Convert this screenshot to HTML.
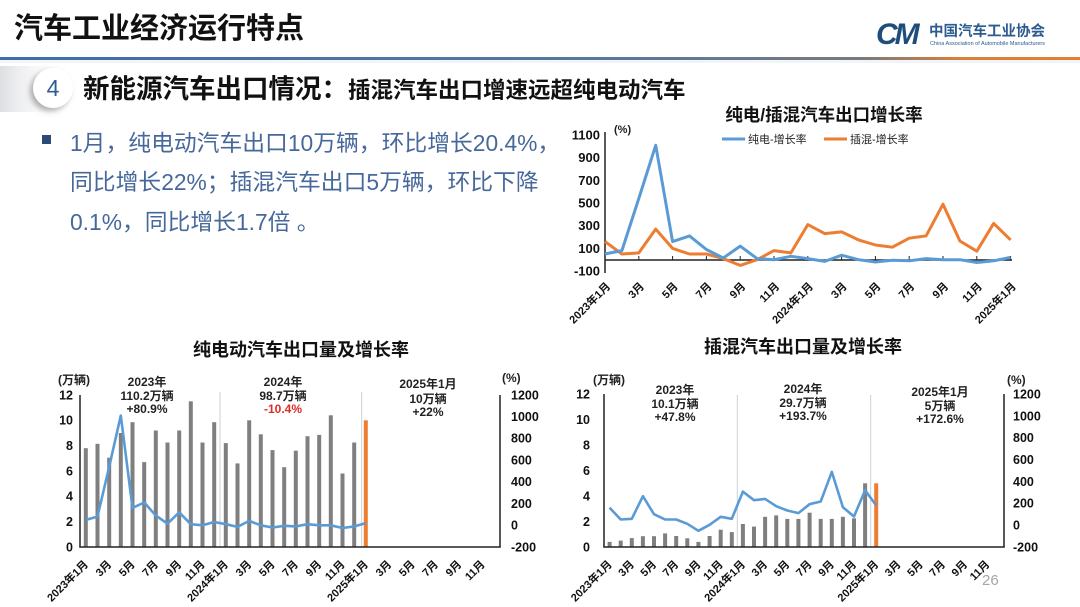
<!DOCTYPE html>
<html><head><meta charset="utf-8"><style>
html,body{margin:0;padding:0;background:#fff;}
body{width:1080px;height:607px;overflow:hidden;}
svg{display:block;}
.t{font-family:"Liberation Sans","Noto Sans CJK SC",sans-serif;}
.b{font-weight:bold;}
</style></head><body>
<svg width="1080" height="607" viewBox="0 0 1080 607" xmlns="http://www.w3.org/2000/svg">
<defs>
<linearGradient id="hl" x1="0" x2="1" y1="0" y2="0">
<stop offset="0" stop-color="#3d6ea8"/><stop offset="0.55" stop-color="#56789f"/><stop offset="0.8" stop-color="#7a7a7a"/><stop offset="0.89" stop-color="#d9803a"/><stop offset="1" stop-color="#e67e2e"/>
</linearGradient>
<linearGradient id="sh" x1="0" x2="1" y1="0" y2="0">
<stop offset="0" stop-color="#cfd1d6" stop-opacity="0.7"/><stop offset="1" stop-color="#ffffff" stop-opacity="0"/>
</linearGradient>
<filter id="ds" x="-50%" y="-50%" width="200%" height="200%"><feDropShadow dx="-3" dy="3" stdDeviation="3" flood-color="#777" flood-opacity="0.6"/></filter>
</defs>
<rect width="1080" height="607" fill="#fff"/>

<!-- header -->
<text class="t b" x="14" y="38" font-size="29" fill="#111">汽车工业经济运行特点</text>
<rect x="0" y="57" width="1080" height="3" fill="url(#hl)"/>
<rect x="0" y="60" width="1080" height="3" fill="#e8eef5" opacity="0.6"/>

<!-- logo -->
<text class="t b" x="876" y="44" font-size="30" font-style="italic" fill="#1f4d7a" letter-spacing="-3">CM</text>
<text class="t b" x="929" y="36" font-size="14.5" fill="#2b5b8f">中国汽车工业协会</text>
<text class="t" x="930" y="45" font-size="5" fill="#2b5b8f" textLength="115" lengthAdjust="spacingAndGlyphs">China Association of Automobile Manufacturers</text>

<!-- section heading -->
<rect x="0" y="66" width="70" height="46" fill="url(#sh)"/>
<circle cx="53" cy="88" r="20" fill="#fff" filter="url(#ds)"/>
<text class="t" x="53" y="96" font-size="23" fill="#2e5e95" text-anchor="middle">4</text>
<text class="t b" x="83" y="98" font-size="26.5" fill="#111">新能源汽车出口情况：<tspan font-size="22.5">插混汽车出口增速远超纯电动汽车</tspan></text>

<!-- bullet text -->
<rect x="42" y="135" width="9" height="9" fill="#2a4a78"/>
<g class="t" font-size="22.8" fill="#46689a">
<text x="70" y="151">1月，纯电动汽车出口10万辆，环比增长20.4%，</text>
<text x="70" y="190">同比增长22%；插混汽车出口5万辆，环比下降</text>
<text x="70" y="230">0.1%，同比增长1.7倍 。</text>
</g>

<!-- ================= TOP RIGHT CHART ================= -->
<text class="t b" x="824" y="121" font-size="17.5" fill="#111" text-anchor="middle">纯电/插混汽车出口增长率</text>
<line x1="722" y1="139" x2="745" y2="139" stroke="#5b9bd5" stroke-width="3"/>
<text class="t" x="748" y="143" font-size="11" fill="#222">纯电-增长率</text>
<line x1="824" y1="139" x2="847" y2="139" stroke="#ed7d31" stroke-width="3"/>
<text class="t" x="850" y="143" font-size="11" fill="#222">插混-增长率</text>
<text class="t b" x="614" y="133" font-size="11" fill="#222">(%)</text>
<g class="t b" font-size="13" fill="#111" text-anchor="end">
<text x="600" y="139.5">1100</text>
<text x="600" y="162">900</text>
<text x="600" y="185">700</text>
<text x="600" y="207.5">500</text>
<text x="600" y="230">300</text>
<text x="600" y="253">100</text>
<text x="600" y="275.5">-100</text>
</g>
<line x1="605" y1="132" x2="605" y2="273" stroke="#222" stroke-width="1.5"/>
<line x1="605" y1="260" x2="1012" y2="260" stroke="#222" stroke-width="1.5"/>
<g stroke="#222" stroke-width="1">
<line x1="638.8" y1="256" x2="638.8" y2="260"/><line x1="672.6" y1="256" x2="672.6" y2="260"/><line x1="706.4" y1="256" x2="706.4" y2="260"/><line x1="740.2" y1="256" x2="740.2" y2="260"/><line x1="774" y1="256" x2="774" y2="260"/><line x1="807.8" y1="256" x2="807.8" y2="260"/><line x1="841.6" y1="256" x2="841.6" y2="260"/><line x1="875.4" y1="256" x2="875.4" y2="260"/><line x1="909.2" y1="256" x2="909.2" y2="260"/><line x1="943" y1="256" x2="943" y2="260"/><line x1="976.8" y1="256" x2="976.8" y2="260"/><line x1="1010.6" y1="256" x2="1010.6" y2="260"/>
</g>
<polyline fill="none" stroke="#ed7d31" stroke-width="3" stroke-linejoin="round" points="605,241.6 621.9,254 638.8,252.9 655.7,229.1 672.6,248.4 689.5,254 706.4,254 723.3,258.6 740.2,265.4 757.1,259.7 774,250.6 790.9,252.9 807.8,224.6 824.7,233.6 841.6,231.9 858.5,239.9 875.4,245 892.3,247.2 909.2,238.2 926.1,235.9 943,204.2 959.9,241 976.8,251.2 993.7,223.4 1010.6,239.9"/>
<polyline fill="none" stroke="#5b9bd5" stroke-width="3" stroke-linejoin="round" points="605,254 621.9,250.6 638.8,198.5 655.7,145.3 672.6,241.6 689.5,235.9 706.4,249.5 723.3,258 740.2,246.1 757.1,258.6 774,259.7 790.9,256.3 807.8,258.6 824.7,261.4 841.6,255.2 858.5,259.7 875.4,262 892.3,260.3 909.2,260.8 926.1,258.6 943,259.7 959.9,259.7 976.8,262.5 993.7,260.8 1010.6,257.4"/>
<g class="t b" font-size="11" fill="#111" text-anchor="end">
<text x="611" y="287" transform="rotate(-45 611 287)">2023年1月</text>
<text x="644.8" y="287" transform="rotate(-45 644.8 287)">3月</text>
<text x="678.6" y="287" transform="rotate(-45 678.6 287)">5月</text>
<text x="712.4" y="287" transform="rotate(-45 712.4 287)">7月</text>
<text x="746.2" y="287" transform="rotate(-45 746.2 287)">9月</text>
<text x="780" y="287" transform="rotate(-45 780 287)">11月</text>
<text x="813.8" y="287" transform="rotate(-45 813.8 287)">2024年1月</text>
<text x="847.6" y="287" transform="rotate(-45 847.6 287)">3月</text>
<text x="881.4" y="287" transform="rotate(-45 881.4 287)">5月</text>
<text x="915.2" y="287" transform="rotate(-45 915.2 287)">7月</text>
<text x="949" y="287" transform="rotate(-45 949 287)">9月</text>
<text x="982.8" y="287" transform="rotate(-45 982.8 287)">11月</text>
<text x="1016.6" y="287" transform="rotate(-45 1016.6 287)">2025年1月</text>
</g>

<!-- ================= BOTTOM LEFT CHART ================= -->
<text class="t b" x="301" y="356" font-size="18" fill="#111" text-anchor="middle">纯电动汽车出口量及增长率</text>
<text class="t b" x="58" y="384" font-size="12" fill="#222">(万辆)</text>
<text class="t b" x="502" y="382" font-size="12" fill="#222">(%)</text>
<g class="t b" font-size="12" fill="#222" text-anchor="middle">
<text x="147" y="386">2023年</text><text x="147" y="400">110.2万辆</text><text x="147" y="413">+80.9%</text>
<text x="283" y="386">2024年</text><text x="283" y="400">98.7万辆</text><text x="283" y="413" fill="#e02a2a">-10.4%</text>
<text x="428" y="388">2025年1月</text><text x="428" y="403">10万辆</text><text x="428" y="416">+22%</text>
</g>
<g class="t b" font-size="12.5" fill="#111" text-anchor="end">
<text x="73" y="551.5">0</text><text x="73" y="526">2</text><text x="73" y="500.5">4</text><text x="73" y="475.5">6</text><text x="73" y="450">8</text><text x="73" y="424.5">10</text><text x="73" y="399.5">12</text>
</g>
<g class="t b" font-size="12.5" fill="#111">
<text x="511" y="551.5">-200</text><text x="511" y="529.5">0</text><text x="511" y="508">200</text><text x="511" y="486">400</text><text x="511" y="464.5">600</text><text x="511" y="442.5">800</text><text x="511" y="421">1000</text><text x="511" y="399.5">1200</text>
</g>
<g stroke="#c9d0da" stroke-width="1">
<line x1="220" y1="392" x2="220" y2="547"/><line x1="361.7" y1="392" x2="361.7" y2="547"/>
</g>
<g fill="#7f7f7f">
<rect x="83.8" y="448.2" width="4" height="98.8"/>
<rect x="95.5" y="443.8" width="4" height="103.2"/>
<rect x="107.2" y="457.7" width="4" height="89.3"/>
<rect x="118.8" y="433" width="4" height="114"/>
<rect x="130.5" y="422.2" width="4" height="124.8"/>
<rect x="142.2" y="462.1" width="4" height="84.9"/>
<rect x="153.8" y="430.5" width="4" height="116.5"/>
<rect x="165.5" y="442.5" width="4" height="104.5"/>
<rect x="177.2" y="430.5" width="4" height="116.5"/>
<rect x="188.8" y="401.3" width="4" height="145.7"/>
<rect x="200.5" y="442.5" width="4" height="104.5"/>
<rect x="212.2" y="422.2" width="4" height="124.8"/>
<rect x="223.8" y="443.1" width="4" height="103.9"/>
<rect x="235.5" y="463.4" width="4" height="83.6"/>
<rect x="247.2" y="420.3" width="4" height="126.7"/>
<rect x="258.8" y="434.3" width="4" height="112.7"/>
<rect x="270.5" y="450.1" width="4" height="96.9"/>
<rect x="282.2" y="467.2" width="4" height="79.8"/>
<rect x="293.8" y="450.7" width="4" height="96.3"/>
<rect x="305.5" y="436.2" width="4" height="110.8"/>
<rect x="317.2" y="434.9" width="4" height="112.1"/>
<rect x="328.8" y="415.3" width="4" height="131.7"/>
<rect x="340.5" y="473.5" width="4" height="73.5"/>
<rect x="352.2" y="442.5" width="4" height="104.5"/>
</g>
<rect x="363.8" y="420.3" width="4" height="126.7" fill="#ed7d31"/>
<polyline fill="none" stroke="#5b9bd5" stroke-width="2.6" stroke-linejoin="round" points="85.8,519.9 97.5,516.6 109.2,466.7 120.8,415.6 132.5,507.9 144.2,502.5 155.8,515.5 167.5,523.7 179.2,512.3 190.8,524.2 202.5,525.3 214.2,522 225.8,524.2 237.5,526.9 249.2,520.9 260.8,525.3 272.5,527.5 284.2,525.8 295.8,526.4 307.5,524.2 319.2,525.3 330.8,525.3 342.5,528 354.2,526.4 365.8,523.1"/>
<g stroke="#222" stroke-width="1.5" fill="none">
<line x1="80" y1="395" x2="80" y2="547.5"/><line x1="500" y1="395" x2="500" y2="547.5"/><line x1="79.3" y1="547" x2="500.7" y2="547"/>
</g>
<g class="t b" font-size="11" fill="#111" text-anchor="end">
<text x="88.8" y="565" transform="rotate(-45 88.8 565)">2023年1月</text>
<text x="112.2" y="565" transform="rotate(-45 112.2 565)">3月</text>
<text x="135.5" y="565" transform="rotate(-45 135.5 565)">5月</text>
<text x="158.8" y="565" transform="rotate(-45 158.8 565)">7月</text>
<text x="182.2" y="565" transform="rotate(-45 182.2 565)">9月</text>
<text x="205.5" y="565" transform="rotate(-45 205.5 565)">11月</text>
<text x="228.8" y="565" transform="rotate(-45 228.8 565)">2024年1月</text>
<text x="252.2" y="565" transform="rotate(-45 252.2 565)">3月</text>
<text x="275.5" y="565" transform="rotate(-45 275.5 565)">5月</text>
<text x="298.8" y="565" transform="rotate(-45 298.8 565)">7月</text>
<text x="322.2" y="565" transform="rotate(-45 322.2 565)">9月</text>
<text x="345.5" y="565" transform="rotate(-45 345.5 565)">11月</text>
<text x="368.8" y="565" transform="rotate(-45 368.8 565)">2025年1月</text>
<text x="392.2" y="565" transform="rotate(-45 392.2 565)">3月</text>
<text x="415.5" y="565" transform="rotate(-45 415.5 565)">5月</text>
<text x="438.8" y="565" transform="rotate(-45 438.8 565)">7月</text>
<text x="462.2" y="565" transform="rotate(-45 462.2 565)">9月</text>
<text x="485.5" y="565" transform="rotate(-45 485.5 565)">11月</text>
</g>

<!-- ================= BOTTOM RIGHT CHART ================= -->
<text class="t b" x="803" y="353" font-size="18" fill="#111" text-anchor="middle">插混汽车出口量及增长率</text>
<text class="t b" x="593" y="384" font-size="12" fill="#222">(万辆)</text>
<text class="t b" x="1007" y="384" font-size="12" fill="#222">(%)</text>
<g class="t b" font-size="12" fill="#222" text-anchor="middle">
<text x="675" y="394">2023年</text><text x="675" y="408">10.1万辆</text><text x="675" y="421">+47.8%</text>
<text x="803" y="393">2024年</text><text x="803" y="407">29.7万辆</text><text x="803" y="420">+193.7%</text>
<text x="940" y="396">2025年1月</text><text x="940" y="410">5万辆</text><text x="940" y="423">+172.6%</text>
</g>
<g class="t b" font-size="12.5" fill="#111" text-anchor="end">
<text x="590" y="551.5">0</text><text x="590" y="526">2</text><text x="590" y="500.5">4</text><text x="590" y="475">6</text><text x="590" y="449.5">8</text><text x="590" y="424">10</text><text x="590" y="398.5">12</text>
</g>
<g class="t b" font-size="12.5" fill="#111">
<text x="1013" y="551.5">-200</text><text x="1013" y="529.5">0</text><text x="1013" y="507.5">200</text><text x="1013" y="486">400</text><text x="1013" y="464">600</text><text x="1013" y="442">800</text><text x="1013" y="420.5">1000</text><text x="1013" y="398.5">1200</text>
</g>
<g stroke="#c9d0da" stroke-width="1">
<line x1="737.3" y1="395" x2="737.3" y2="547"/><line x1="870.7" y1="395" x2="870.7" y2="547"/>
</g>
<g fill="#7f7f7f">
<rect x="607.6" y="541.9" width="4" height="5.1"/>
<rect x="618.7" y="540.6" width="4" height="6.4"/>
<rect x="629.8" y="538.1" width="4" height="8.9"/>
<rect x="640.9" y="536.2" width="4" height="10.8"/>
<rect x="652" y="536.2" width="4" height="10.8"/>
<rect x="663.1" y="533.4" width="4" height="13.6"/>
<rect x="674.2" y="536" width="4" height="11"/>
<rect x="685.3" y="538.3" width="4" height="8.7"/>
<rect x="696.4" y="541.9" width="4" height="5.1"/>
<rect x="707.6" y="536" width="4" height="11"/>
<rect x="718.7" y="529.7" width="4" height="17.3"/>
<rect x="729.8" y="532.1" width="4" height="14.9"/>
<rect x="740.9" y="524" width="4" height="23"/>
<rect x="752" y="526.6" width="4" height="20.4"/>
<rect x="763.1" y="516.8" width="4" height="30.2"/>
<rect x="774.2" y="515.4" width="4" height="31.6"/>
<rect x="785.3" y="518.9" width="4" height="28.1"/>
<rect x="796.4" y="518.9" width="4" height="28.1"/>
<rect x="807.6" y="512.7" width="4" height="34.3"/>
<rect x="818.7" y="518.9" width="4" height="28.1"/>
<rect x="829.8" y="518.9" width="4" height="28.1"/>
<rect x="840.9" y="516.8" width="4" height="30.2"/>
<rect x="852" y="518.3" width="4" height="28.7"/>
<rect x="863.1" y="483.3" width="4" height="63.7"/>
</g>
<rect x="874.2" y="483.3" width="4" height="63.7" fill="#ed7d31"/>
<polyline fill="none" stroke="#5b9bd5" stroke-width="2.6" stroke-linejoin="round" points="609.6,507.7 620.7,519.5 631.8,518.8 642.9,496.2 654,514.2 665.1,519.5 676.2,519.5 687.3,523.8 698.4,530.8 709.6,524.8 720.7,516.8 731.8,518.8 742.9,491.6 754,500.2 765.1,498.9 776.2,506.2 787.3,510.5 798.4,513.1 809.6,504.2 820.7,501.5 831.8,471.9 842.9,507.2 854,516.5 865.1,490.2 876.2,505.5"/>
<g stroke="#222" stroke-width="1.5" fill="none">
<line x1="604" y1="394" x2="604" y2="547.5"/><line x1="1004" y1="394" x2="1004" y2="547.5"/><line x1="603.3" y1="547" x2="1004.7" y2="547"/>
</g>
<g class="t b" font-size="11" fill="#111" text-anchor="end">
<text x="612.6" y="565" transform="rotate(-45 612.6 565)">2023年1月</text>
<text x="634.8" y="565" transform="rotate(-45 634.8 565)">3月</text>
<text x="657" y="565" transform="rotate(-45 657 565)">5月</text>
<text x="679.2" y="565" transform="rotate(-45 679.2 565)">7月</text>
<text x="701.4" y="565" transform="rotate(-45 701.4 565)">9月</text>
<text x="723.7" y="565" transform="rotate(-45 723.7 565)">11月</text>
<text x="745.9" y="565" transform="rotate(-45 745.9 565)">2024年1月</text>
<text x="768.1" y="565" transform="rotate(-45 768.1 565)">3月</text>
<text x="790.3" y="565" transform="rotate(-45 790.3 565)">5月</text>
<text x="812.6" y="565" transform="rotate(-45 812.6 565)">7月</text>
<text x="834.8" y="565" transform="rotate(-45 834.8 565)">9月</text>
<text x="857" y="565" transform="rotate(-45 857 565)">11月</text>
<text x="879.2" y="565" transform="rotate(-45 879.2 565)">2025年1月</text>
<text x="901.4" y="565" transform="rotate(-45 901.4 565)">3月</text>
<text x="923.7" y="565" transform="rotate(-45 923.7 565)">5月</text>
<text x="945.9" y="565" transform="rotate(-45 945.9 565)">7月</text>
<text x="968.1" y="565" transform="rotate(-45 968.1 565)">9月</text>
<text x="990.3" y="565" transform="rotate(-45 990.3 565)">11月</text>
</g>

<text class="t" x="982" y="585" font-size="15" fill="#a6a6a6">26</text>
</svg>
</body></html>
